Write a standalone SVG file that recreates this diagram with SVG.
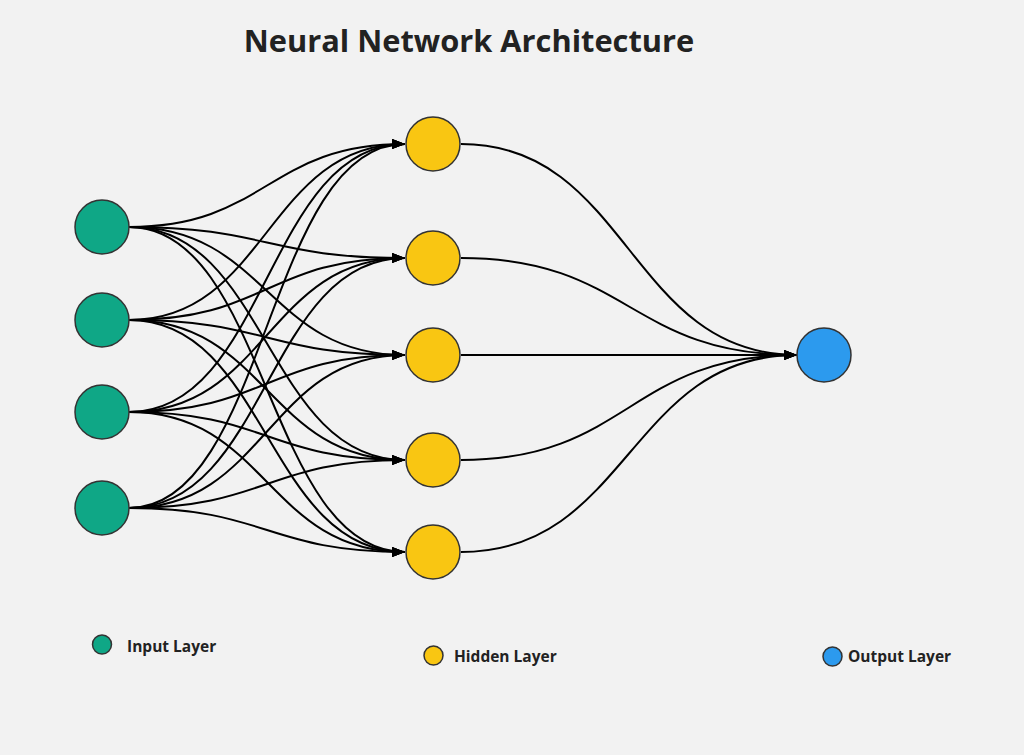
<svg xmlns="http://www.w3.org/2000/svg" width="1024" height="755" viewBox="0 0 1024 755">
  <defs>
    <marker id="arrow" markerUnits="userSpaceOnUse" markerWidth="14" markerHeight="11" refX="13" refY="5" orient="auto">
      <path d="M0,0 L13,5 L0,10 z" fill="#000"/>
    </marker>
    <style>
      .title { font-family: "Open Sans", "Noto Sans", "Liberation Sans", sans-serif; font-weight: 700; font-size: 30.8px; fill: #222; }
      .legend { font-family: "Open Sans", "Noto Sans", "Liberation Sans", sans-serif; font-weight: 700; font-size: 15.5px; fill: #222; }
      .node { stroke: #333; stroke-width: 1.5; }
      .input { fill: #0fa786; }
      .hidden { fill: #f9c612; }
      .output { fill: #2c9aee; }
      .edge { fill: none; stroke: #000; stroke-width: 2; marker-end: url(#arrow); }
    </style>
  </defs>
  <rect x="0" y="0" width="1024" height="755" fill="#f2f2f2"/>
  <text class="title" x="469" y="52" text-anchor="middle">Neural Network Architecture</text>

  <g id="connectors">
    <path class="edge" d="M129,227 C267,227 267,144 405,144"/>
    <path class="edge" d="M129,227 C267,227 267,258 405,258"/>
    <path class="edge" d="M129,227 C267,227 267,355 405,355"/>
    <path class="edge" d="M129,227 C267,227 267,460 405,460"/>
    <path class="edge" d="M129,227 C267,227 267,552 405,552"/>
    <path class="edge" d="M129,320 C267,320 267,144 405,144"/>
    <path class="edge" d="M129,320 C267,320 267,258 405,258"/>
    <path class="edge" d="M129,320 C267,320 267,355 405,355"/>
    <path class="edge" d="M129,320 C267,320 267,460 405,460"/>
    <path class="edge" d="M129,320 C267,320 267,552 405,552"/>
    <path class="edge" d="M129,412 C267,412 267,144 405,144"/>
    <path class="edge" d="M129,412 C267,412 267,258 405,258"/>
    <path class="edge" d="M129,412 C267,412 267,355 405,355"/>
    <path class="edge" d="M129,412 C267,412 267,460 405,460"/>
    <path class="edge" d="M129,412 C267,412 267,552 405,552"/>
    <path class="edge" d="M129,508 C267,508 267,144 405,144"/>
    <path class="edge" d="M129,508 C267,508 267,258 405,258"/>
    <path class="edge" d="M129,508 C267,508 267,355 405,355"/>
    <path class="edge" d="M129,508 C267,508 267,460 405,460"/>
    <path class="edge" d="M129,508 C267,508 267,552 405,552"/>
    <path class="edge" d="M461,144 C629,144 629,355 797,355"/>
    <path class="edge" d="M461,258 C629,258 629,355 797,355"/>
    <path class="edge" d="M461,355 L797,355"/>
    <path class="edge" d="M461,460 C629,460 629,355 797,355"/>
    <path class="edge" d="M461,552 C629,552 629,355 797,355"/>
  </g>

  <g id="input1"><circle class="node input" cx="102" cy="227" r="27"/></g>
  <g id="input2"><circle class="node input" cx="102" cy="320" r="27"/></g>
  <g id="input3"><circle class="node input" cx="102" cy="412" r="27"/></g>
  <g id="input4"><circle class="node input" cx="102" cy="508" r="27"/></g>

  <g id="hidden1"><circle class="node hidden" cx="433" cy="144" r="27"/></g>
  <g id="hidden2"><circle class="node hidden" cx="433" cy="258" r="27"/></g>
  <g id="hidden3"><circle class="node hidden" cx="433" cy="355" r="27"/></g>
  <g id="hidden4"><circle class="node hidden" cx="433" cy="460" r="27"/></g>
  <g id="hidden5"><circle class="node hidden" cx="433" cy="552" r="27"/></g>

  <g id="output1"><circle class="node output" cx="824" cy="355" r="27"/></g>

  <g id="legend-input">
    <circle class="node input" cx="102" cy="644.5" r="9.5"/>
    <text class="legend" x="127" y="651.5">Input Layer</text>
  </g>
  <g id="legend-hidden">
    <circle class="node hidden" cx="433.5" cy="655.5" r="9.5"/>
    <text class="legend" x="454" y="662">Hidden Layer</text>
  </g>
  <g id="legend-output">
    <circle class="node output" cx="832.5" cy="656.5" r="9.5"/>
    <text class="legend" x="848" y="662">Output Layer</text>
  </g>
</svg>
